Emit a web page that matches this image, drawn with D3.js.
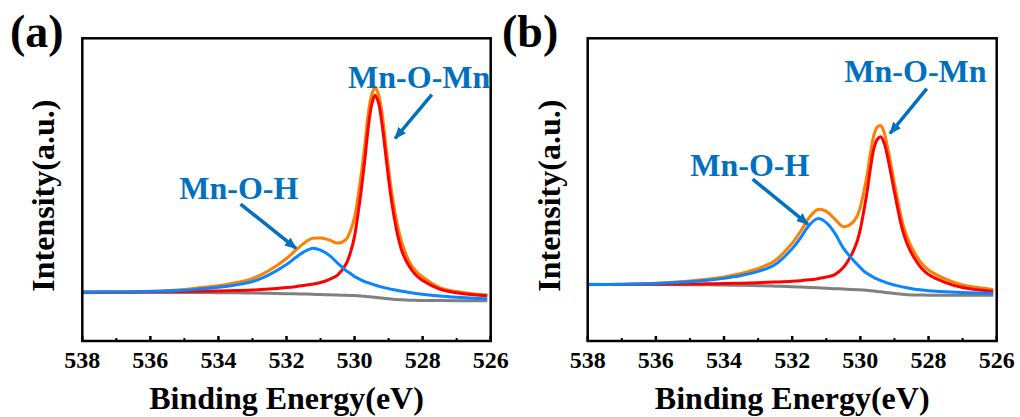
<!DOCTYPE html>
<html>
<head>
<meta charset="utf-8">
<script src="https://cdn.jsdelivr.net/npm/d3@7"></script>
<style>
  body { margin: 0; background: #fff; }
  svg { display: block; }
</style>
</head>
<body>
<svg width="1020" height="417"></svg>
<script>
// binding energy grid (eV) shared by all curves
const energy = [538, 537, 536, 535, 534.5, 534, 533.5, 533, 532.5, 532,
  531.75, 531.5, 531.25, 531, 530.75, 530.5, 530.25, 530.1, 530, 529.9,
  529.8, 529.7, 529.6, 529.5, 529.4, 529.3, 529.2, 529.1, 529, 528.9,
  528.8, 528.7, 528.6, 528.4, 528.2, 528, 527.5, 527, 526.5, 526.1];

const majorTicks = [538, 536, 534, 532, 530, 528, 526];
const minorTicks = [537, 535, 533, 531, 529, 527];

// panel (a) intensities (a.u.)
const bgA = [490, 490, 488, 486, 485, 484, 482, 480, 477, 474,
  472, 470, 468, 465, 463, 460, 457, 456, 455, 453,
  450, 447, 444, 440, 437, 434, 430, 426, 422, 419,
  416, 414, 412, 409, 407, 406, 405, 404, 403, 403];
const ohA = [489, 491, 495, 507, 522, 537, 560, 595, 665, 765,
  830, 890, 927, 910, 860, 780, 705, 670, 645, 627,
  610, 595, 583, 572, 560, 550, 540, 532, 524, 517,
  510, 503, 497, 486, 476, 468, 450, 437, 427, 422];
const omnA = [487, 488, 490, 495, 498, 500, 505, 510, 520, 535,
  544, 555, 568, 585, 615, 660, 770, 910, 1050, 1270,
  1520, 1810, 2130, 2360, 2460, 2390, 2190, 1910, 1620, 1370,
  1170, 1010, 890, 750, 660, 605, 520, 482, 462, 453];
const envA = [484, 488, 497, 516, 535, 553, 583, 625, 708, 826,
  902, 975, 1027, 1030, 1012, 980, 1018, 1124, 1240, 1444,
  1680, 1958, 2269, 2460, 2540, 2470, 2300, 2016, 1722, 1468,
  1264, 1099, 975, 800, 700, 640, 535, 495, 470, 460];

// panel (b) intensities (a.u.)
const bgB = [567, 566, 565, 563, 562, 560, 557, 554, 549, 543,
  540, 536, 532, 528, 524, 520, 516, 514, 512, 510,
  507, 504, 500, 496, 492, 488, 484, 480, 476, 472,
  469, 466, 464, 461, 460, 459, 458, 458, 458, 458];
const ohB = [565, 568, 575, 593, 607, 627, 655, 697, 765, 925,
  1035, 1160, 1225, 1185, 1080, 930, 825, 770, 735, 700,
  675, 655, 635, 620, 605, 592, 580, 570, 560, 552,
  544, 537, 530, 518, 510, 504, 493, 485, 480, 477];
const omnB = [565, 566, 568, 570, 572, 575, 578, 583, 590, 598,
  604, 612, 624, 640, 665, 735, 870, 990, 1120, 1300,
  1500, 1740, 1930, 2020, 2043, 1980, 1840, 1670, 1490, 1320,
  1160, 1040, 950, 820, 725, 665, 585, 535, 510, 495];
const envB = [563, 568, 578, 600, 617, 642, 676, 726, 806, 980,
  1099, 1236, 1317, 1297, 1221, 1145, 1179, 1246, 1343, 1490,
  1668, 1891, 2065, 2144, 2156, 2084, 1936, 1760, 1574, 1400,
  1235, 1111, 1016, 877, 775, 710, 620, 562, 532, 514];

// peak labels: text position and arrow (energy, intensity)
const notesA = [
  {text: "Mn-O-Mn", at: [530.19, 2537], from: [527.73, 2467], to: [528.81, 2027]},
  {text: "Mn-O-H", at: [535.15, 1417], from: [533.35, 1370], to: [531.72, 927]}
];
const notesB = [
  {text: "Mn-O-Mn", at: [530.47, 2593], from: [528.05, 2527], to: [529.13, 2077]},
  {text: "Mn-O-H", at: [534.99, 1653], from: [533.16, 1620], to: [531.54, 1170]}
];

const panels = [
  {label: "(a)", labelX: 10, left: 82.3, right: 490.7, bg: bgA, oh: ohA, omn: omnA, env: envA, notes: notesA},
  {label: "(b)", labelX: 502, left: 587.7, right: 996.7, bg: bgB, oh: ohB, omn: omnB, env: envB, notes: notesB}
];

const plotTop = 38.3, plotBottom = 341;
const serif = "'Liberation Serif', 'Times New Roman', serif";
const noteColor = "#0070c0";

const svg = d3.select("svg")
    .attr("font-family", serif)
    .attr("font-weight", "bold");

svg.append("defs").append("marker")
    .attr("id", "head")
    .attr("markerUnits", "userSpaceOnUse")
    .attr("viewBox", "0 0 12 10")
    .attr("refX", 11).attr("refY", 5)
    .attr("markerWidth", 12).attr("markerHeight", 10)
    .attr("orient", "auto")
  .append("path")
    .attr("d", "M0,0L12,5L0,10Z")
    .attr("fill", noteColor);

const y = d3.scaleLinear().domain([0, 3030]).range([plotBottom, plotTop]);

panels.forEach(p => {
  const x = d3.scaleLinear().domain([538, 526]).range([p.left, p.right]);
  const g = svg.append("g");

  const line = d3.line()
      .x((d, i) => x(energy[i]))
      .y(d => y(d))
      .curve(d3.curveCatmullRom.alpha(0.5));

  // background, envelope, then the two components
  [[p.bg, "#808080"], [p.env, "#ff8000"], [p.omn, "#ff0000"], [p.oh, "#0a84ff"]]
    .forEach(([vals, c]) => {
      g.append("path")
          .attr("d", line(vals))
          .attr("fill", "none")
          .attr("stroke", c)
          .attr("stroke-width", 3);
    });

  // frame
  g.append("rect")
      .attr("x", p.left).attr("y", plotTop)
      .attr("width", p.right - p.left).attr("height", plotBottom - plotTop)
      .attr("fill", "none")
      .attr("stroke", "#000")
      .attr("stroke-width", 2.5);

  g.selectAll(".major").data(majorTicks).enter().append("line")
      .attr("x1", d => x(d)).attr("x2", d => x(d))
      .attr("y1", plotBottom).attr("y2", plotBottom - 5)
      .attr("stroke", "#000").attr("stroke-width", 2.5);

  g.selectAll(".minor").data(minorTicks).enter().append("line")
      .attr("x1", d => x(d)).attr("x2", d => x(d))
      .attr("y1", plotBottom).attr("y2", plotBottom - 3)
      .attr("stroke", "#000").attr("stroke-width", 2);

  g.selectAll(".tl").data(majorTicks).enter().append("text")
      .attr("x", d => x(d))
      .attr("y", 367.7)
      .attr("text-anchor", "middle")
      .attr("font-size", 24)
      .text(d => d);

  g.append("text")
      .attr("x", (p.left + p.right) / 2)
      .attr("y", 409)
      .attr("text-anchor", "middle")
      .attr("font-size", 32)
      .text("Binding Energy(eV)");

  g.append("text")
      .attr("transform", `translate(${p.left - 28},${(plotTop + plotBottom) / 2 + 6}) rotate(-90)`)
      .attr("text-anchor", "middle")
      .attr("font-size", 32)
      .text("Intensity(a.u.)");

  g.append("text")
      .attr("x", p.labelX)
      .attr("y", 47)
      .attr("font-size", 46)
      .text(p.label);

  p.notes.forEach(n => {
    g.append("line")
        .attr("x1", x(n.from[0])).attr("y1", y(n.from[1]))
        .attr("x2", x(n.to[0])).attr("y2", y(n.to[1]))
        .attr("stroke", noteColor)
        .attr("stroke-width", 3.5)
        .attr("marker-end", "url(#head)");
    g.append("text")
        .attr("x", x(n.at[0]))
        .attr("y", y(n.at[1]))
        .attr("fill", noteColor)
        .attr("font-size", 32)
        .text(n.text);
  });
});
</script>
</body>
</html>
